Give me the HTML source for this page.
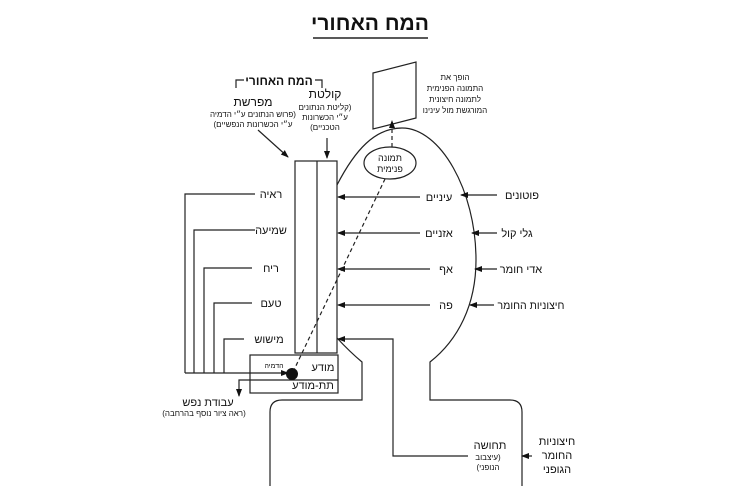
<!DOCTYPE html>
<html><head><meta charset="utf-8"><style>
body{margin:0;background:#fff;}
svg{display:block;font-family:"Liberation Sans","Noto Sans CJK SC",sans-serif;}
text{fill:#111;}
</style></head><body>
<svg width="741" height="486" viewBox="0 0 741 486" xmlns="http://www.w3.org/2000/svg">
<defs><marker id="a" markerWidth="8" markerHeight="8" refX="7" refY="4" orient="auto" markerUnits="userSpaceOnUse"><path d="M0,1 L8,4 L0,7 z" fill="#111"/></marker></defs>
<g stroke="#222" stroke-width="1.2" fill="none">
<line x1="313" y1="38" x2="428" y2="38" stroke-width="1.5"/>
<path d="M337,185 C355,150 375,128 402,128 C440,128 476,190 476,260 C476,305 458,340 430,362 L430,400 L510,400 Q522,400 522,412 L522,486"/>
<path d="M337,338 Q350,352 362,362 L362,400 L282,400 Q270,400 270,412 L270,486"/>
<rect x="295" y="161" width="42" height="192"/>
<line x1="317" y1="161" x2="317" y2="353"/>
<rect x="250" y="355" width="88" height="38"/>
<line x1="250" y1="380" x2="338" y2="380"/>
<path d="M236,88 L236,80 L244,80 M315,80 L322,80 L322,88"/>
<path d="M255,194 L185,194 L185,373"/>
<path d="M255,230 L194,230 L194,373"/>
<path d="M252,268 L204,268 L204,373"/>
<path d="M252,303 L214,303 L214,373"/>
<path d="M244,339 L224,339 L224,373"/>
<line x1="185" y1="373" x2="288" y2="373" marker-end="url(#a)"/>
<path d="M250,380 L239,380 L239,396" marker-end="url(#a)"/>
<line x1="258" y1="130" x2="288" y2="157" marker-end="url(#a)"/>
<line x1="327" y1="138" x2="327" y2="158" marker-end="url(#a)"/>
<line x1="420" y1="197" x2="338" y2="197" marker-end="url(#a)"/>
<line x1="420" y1="233" x2="338" y2="233" marker-end="url(#a)"/>
<line x1="430" y1="269" x2="338" y2="269" marker-end="url(#a)"/>
<line x1="430" y1="305" x2="338" y2="305" marker-end="url(#a)"/>
<line x1="497" y1="195" x2="461" y2="195" marker-end="url(#a)"/>
<line x1="497" y1="233" x2="472" y2="233" marker-end="url(#a)"/>
<line x1="497" y1="269" x2="475" y2="269" marker-end="url(#a)"/>
<line x1="494" y1="305" x2="470" y2="305" marker-end="url(#a)"/>
<path d="M468,456 L393,456 L393,339 L338,339" marker-end="url(#a)"/>
<line x1="532" y1="456" x2="522" y2="456" marker-end="url(#a)"/>
<ellipse cx="390" cy="163" rx="26" ry="16"/>
<path d="M373,73 L416,62 L416,118 L373,129 Z"/>
<line x1="293" y1="372" x2="385" y2="179" stroke-dasharray="4,3"/>
<line x1="392" y1="147" x2="392" y2="121" stroke-dasharray="4,3" marker-end="url(#a)"/>
</g>
<circle cx="292" cy="374" r="6" fill="#111"/>
<g text-anchor="middle">
<text x="370" y="30" font-size="21" font-weight="bold">המח האחורי</text>
<text x="279" y="85" font-size="12" font-weight="bold">המח האחורי</text>
<text x="253" y="106" font-size="12">מפרשת</text>
<text x="253" y="117" font-size="8" direction="rtl">(פרוש הנתונים ע״י הדמיה</text>
<text x="253" y="127" font-size="8" direction="rtl">ע״י הכשרונות הנפשיים)</text>
<text x="325" y="98" font-size="12">קולטת</text>
<text x="325" y="110" font-size="8" direction="rtl">(קליטת הנתונים</text>
<text x="325" y="120" font-size="8">ע״י הכשרונות</text>
<text x="325" y="130" font-size="8" direction="rtl">הטכניים)</text>
<text x="455" y="80" font-size="8">הופך את</text>
<text x="455" y="91" font-size="8">התמונה הפנימית</text>
<text x="455" y="102" font-size="8">לתמונה חיצונית</text>
<text x="455" y="113" font-size="8">המורגשת מול עינינו</text>
<text x="390" y="161" font-size="9">תמונה</text>
<text x="390" y="172" font-size="9">פנימית</text>
<text x="271" y="198" font-size="11">ראיה</text>
<text x="271" y="234" font-size="11">שמיעה</text>
<text x="271" y="272" font-size="11">ריח</text>
<text x="271" y="307" font-size="11">טעם</text>
<text x="269" y="343" font-size="11">מישוש</text>
<text x="439" y="201" font-size="11">עיניים</text>
<text x="439" y="237" font-size="11">אזניים</text>
<text x="446" y="273" font-size="11">אף</text>
<text x="446" y="309" font-size="11">פה</text>
<text x="522" y="199" font-size="11">פוטונים</text>
<text x="517" y="237" font-size="11">גלי קול</text>
<text x="521" y="273" font-size="11">אדי חומר</text>
<text x="531" y="309" font-size="10.5">חיצוניות החומר</text>
<text x="323" y="371" font-size="11">מודע</text>
<text x="313" y="389" font-size="11">תת-מודע</text>
<text x="274" y="368" font-size="7">הדמיה</text>
<text x="208" y="406" font-size="11">עבודת נפש</text>
<text x="204" y="416" font-size="8" direction="rtl">(ראה ציור נוסף בהרחבה)</text>
<text x="490" y="449" font-size="11">תחושה</text>
<text x="488" y="460" font-size="8" direction="rtl">(עיצבוב</text>
<text x="488" y="470" font-size="8" direction="rtl">הנופני)</text>
<text x="557" y="445" font-size="11">חיצוניות</text>
<text x="557" y="459" font-size="11">החומר</text>
<text x="557" y="473" font-size="11">הגופני</text>
</g>
</svg>
</body></html>
